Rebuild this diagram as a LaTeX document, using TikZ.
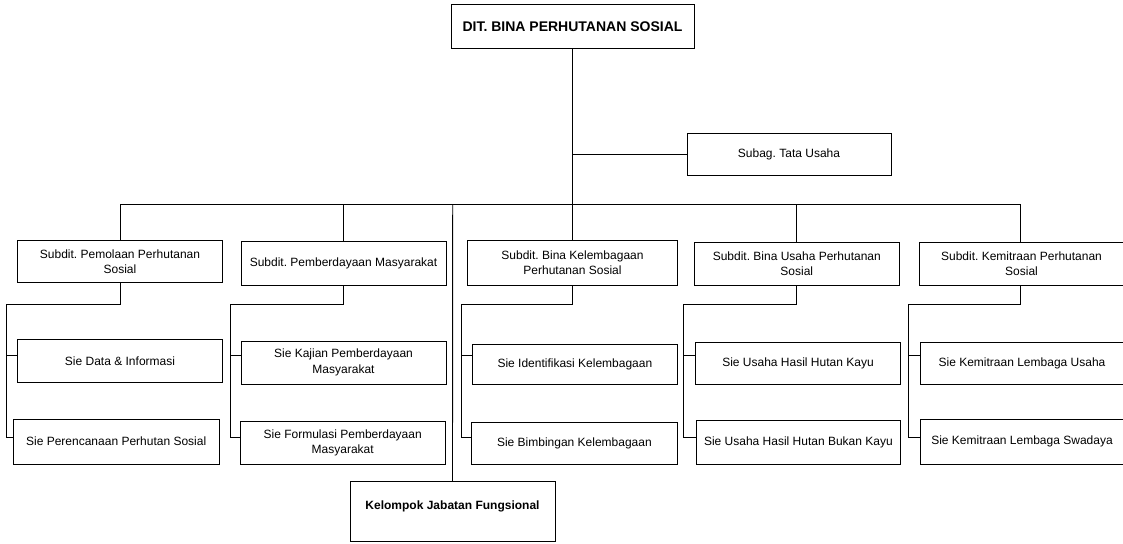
\documentclass[tikz,border=0pt]{standalone}
\usepackage{fontspec}
\setmainfont{Liberation Sans}
\frenchspacing
\begin{document}
\begin{tikzpicture}[x=1pt,y=-1pt,
  box/.style={draw, line width=0.9pt, inner sep=0pt, align=center,
    font=\frenchspacing\fontsize{12}{15.5}\selectfont},
  conn/.style={line width=0.9pt},
  boldbox/.style={box, font=\frenchspacing\bfseries\fontsize{14}{16}\selectfont}]
\useasboundingbox (0,0) rectangle (1123,543);
\clip (0,0) rectangle (1123,543);
% top levels
\node[boldbox, minimum width=243, minimum height=43.5] (top) at (572.5,26.5) {DIT. BINA PERHUTANAN SOSIAL};
\node[box, minimum width=204, minimum height=42] (subag) at (789,154.4) {Subag. Tata Usaha};
% subdits
\node[box, minimum width=205.4, minimum height=42] (S1) at (120,261.7) {Subdit. Pemolaan Perhutanan\\Sosial};
\node[box, minimum width=205, minimum height=44] (S2) at (343.5,263.7) {Subdit. Pemberdayaan Masyarakat};
\node[box, minimum width=210.4, minimum height=44.3] (S3) at (572.5,262.9) {Subdit. Bina Kelembagaan\\Perhutanan Sosial};
\node[box, minimum width=205, minimum height=42.3] (S4) at (796.8,263.9) {Subdit. Bina Usaha Perhutanan\\Sosial};
\node[box, minimum width=210, minimum height=42.7] (S5) at (1024,263.7) {\hspace*{-5pt}Subdit. Kemitraan Perhutanan\\\hspace*{-5pt}Sosial};
% sie boxes
\node[box, minimum width=205.4, minimum height=43.7] (A1) at (120,360.9) {Sie Data \& Informasi};
\node[box, minimum width=205.7, minimum height=45] (A2) at (116.2,441.5) {Sie Perencanaan Perhutan Sosial};
\node[box, minimum width=205, minimum height=43] (B1) at (343.5,362.5) {Sie Kajian Pemberdayaan\\Masyarakat};
\node[box, minimum width=205.3, minimum height=42.3] (B2) at (342.7,442.9) {Sie Formulasi Pemberdayaan\\Masyarakat};
\node[box, minimum width=205.7, minimum height=39.7] (C1) at (574.9,364.2) {Sie Identifikasi Kelembagaan};
\node[box, minimum width=206.7, minimum height=41.7] (C2) at (574.4,443.2) {Sie Bimbingan Kelembagaan};
\node[box, minimum width=205.4, minimum height=41.7] (D1) at (798,363.2) {Sie Usaha Hasil Hutan Kayu};
\node[box, minimum width=204.7, minimum height=44] (D2) at (798.4,442) {Sie Usaha Hasil Hutan Bukan Kayu};
\node[box, minimum width=210, minimum height=41.7] (E1) at (1025,363.2) {\hspace*{-6pt}Sie Kemitraan Lembaga Usaha};
\node[box, minimum width=210, minimum height=45] (E2) at (1025,441.5) {\hspace*{-6pt}Sie Kemitraan Lembaga Swadaya};
% kelompok
\node[draw, line width=0.9pt, inner sep=0pt, minimum width=205, minimum height=60] (kjf) at (452.5,511.7) {};
\node[font=\bfseries\fontsize{12}{14}\selectfont, inner sep=0pt] (kjft) at (452.5,506) {Kelompok Jabatan Fungsional};
% main connectors
\coordinate (bus) at (572.3,204.3);
\coordinate (kb) at (452.7,204.3);
\coordinate (s5d) at (1020.7,204.3);
\draw[conn] (top.south) -- (S3.north);
\draw[conn] (top.south |- subag.west) -- (subag.west);
\draw[conn] (S1.north) |- (s5d) -- (s5d |- S5.north);
\draw[conn] (S2.north) -- (S2.north |- bus);
\draw[conn] (S4.north) -- (S4.north |- bus);
\draw[conn] (kb) -- (kjf.north);
% subdit 1 branch
\coordinate (s1t) at (6,304); \coordinate (s1m) at (6,355.7); \coordinate (s1b) at (6,437);
\draw[conn] (S1.south) |- (s1t) -- (s1b) -- (s1b -| A2.west);
\draw[conn] (s1m) -- (s1m -| A1.west);
% subdit 2 branch
\coordinate (s2t) at (230,304); \coordinate (s2m) at (230,355.7); \coordinate (s2b) at (230,437);
\draw[conn] (S2.south) |- (s2t) -- (s2b) -- (s2b -| B2.west);
\draw[conn] (s2m) -- (s2m -| B1.west);
% subdit 3 branch
\coordinate (s3t) at (461,304); \coordinate (s3m) at (461,355.7); \coordinate (s3b) at (461,437.3);
\draw[conn] (S3.south) |- (s3t) -- (s3b) -- (s3b -| C2.west);
\draw[conn] (s3m) -- (s3m -| C1.west);
% subdit 4 branch
\coordinate (s4t) at (683.3,304); \coordinate (s4m) at (683.3,355.7); \coordinate (s4b) at (683.3,437.3);
\draw[conn] (S4.south) |- (s4t) -- (s4b) -- (s4b -| D2.west);
\draw[conn] (s4m) -- (s4m -| D1.west);
% subdit 5 branch
\coordinate (s5t) at (1020.7,304); \coordinate (s5m) at (908.3,355.7); \coordinate (s5b) at (908.3,437.3);
\draw[conn] (S5.south -| s5t) -- (s5t) -| (s5b) -- (s5b -| E2.west);
\draw[conn] (s5m) -- (s5m -| E1.west);
\end{tikzpicture}
\end{document}
